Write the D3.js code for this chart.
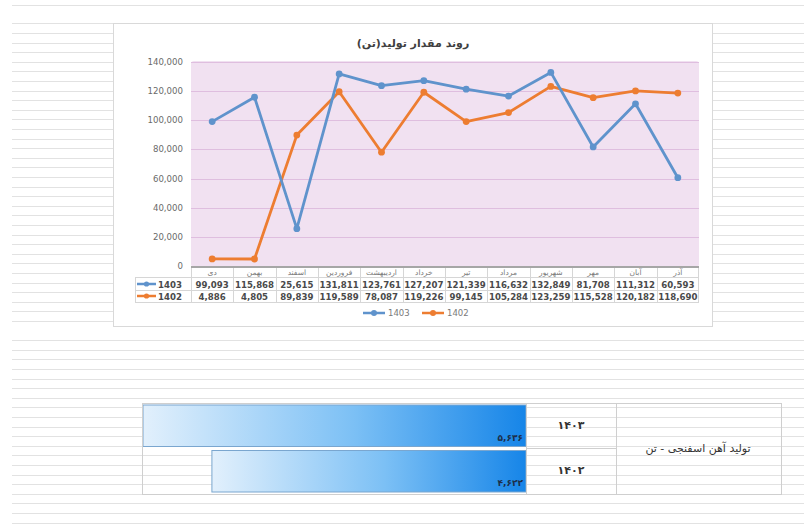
<!DOCTYPE html>
<html><head><meta charset="utf-8">
<script src="https://cdn.jsdelivr.net/npm/d3@7"></script>
<style>html,body{margin:0;padding:0;background:#fff;}svg{display:block;}</style>
</head><body>
<svg id="c" width="804" height="528"></svg>
<script>
const categories = ['دی','بهمن','اسفند','فروردین','اردیبهشت','خرداد','تیر','مرداد','شهریور','مهر','آبان','آذر'];
const series1403 = [99093,115868,25615,131811,123761,127207,121339,116632,132849,81708,111312,60593];
const series1402 = [4886,4805,89839,119589,78087,119226,99145,105284,123259,115528,120182,118690];
const seriesNames = ['1403','1402'];
const yTicks = [0,20000,40000,60000,80000,100000,120000,140000];
const chartTitle = 'روند مقدار تولید(تن)';
const totalYears = ['۱۴۰۳','۱۴۰۲'];
const totalValues = [5636, 4622];
const totalTitle = 'تولید آهن اسفنجی - تن';

const colors = ['#5f93cc','#ed7d31'];
const FONT = "'DejaVu Sans', sans-serif";
const svg = d3.select('#c');
const toFa = s => s.replace(/[0-9]/g, d => '۰۱۲۳۴۵۶۷۸۹'[+d]);

// spreadsheet gridlines
const grid = svg.append('g').attr('stroke','#e2e2e2').attr('stroke-width',1);
grid.append('line').attr('x1',12).attr('x2',804).attr('y1',5.5).attr('y2',5.5);
for (let k=-1; 33+9.6*k < 528; k++) {
  if (k===31) continue;
  const y = Math.round(33+9.6*k)+0.5;
  grid.append('line').attr('x1',12).attr('x2',804).attr('y1',y).attr('y2',y);
}

// chart frame
svg.append('rect').attr('x',113.5).attr('y',23.5).attr('width',599).attr('height',303)
  .attr('fill','#fff').attr('stroke','#d9d9d9');

svg.append('text').attr('x',413).attr('y',47).attr('text-anchor','middle')
  .attr('font-family',FONT).attr('font-weight','bold').attr('font-size',11).attr('fill','#404040')
  .text(chartTitle);

const x = d3.scaleBand().domain(categories).range([191,699]);
const y = d3.scaleLinear().domain([0,140000]).range([266,62]);

svg.append('rect').attr('x',191).attr('y',61).attr('width',508).attr('height',206)
  .attr('rx',3).attr('fill','#f1e1f1');

const gy = svg.append('g');
gy.selectAll('line').data(yTicks.slice(1)).join('line')
  .attr('x1',191).attr('x2',699).attr('y1',d=>Math.round(y(d))+0.5).attr('y2',d=>Math.round(y(d))+0.5)
  .attr('stroke','#dfbedf').attr('stroke-width',1);
gy.selectAll('text').data(yTicks).join('text')
  .attr('x',183).attr('y',d=>y(d)+3).attr('text-anchor','end')
  .attr('font-family',FONT).attr('font-size',8.6).attr('fill','#6a6a6a')
  .text(d=>d3.format(',')(d));

// axis line
svg.append('line').attr('x1',191).attr('x2',699).attr('y1',267).attr('y2',267)
  .attr('stroke','#a6a6a6').attr('stroke-width',2);

// data table
const tb = svg.append('g').attr('stroke','#d6d6d6').attr('stroke-width',1);
[277.5,290.5,302.5].forEach(yy=>tb.append('line').attr('x1',135).attr('x2',699).attr('y1',yy).attr('y2',yy));
tb.append('line').attr('x1',135.5).attr('x2',135.5).attr('y1',277.5).attr('y2',302.5);
categories.forEach((c,i)=>{
  const xx = Math.round(x(c))+0.5;
  tb.append('line').attr('x1',xx).attr('x2',xx).attr('y1',268).attr('y2',302.5);
});
tb.append('line').attr('x1',698.5).attr('x2',698.5).attr('y1',268).attr('y2',302.5);

svg.append('g').selectAll('text').data(categories).join('text')
  .attr('x',d=>x(d)+x.bandwidth()/2).attr('y',275).attr('text-anchor','middle')
  .attr('font-family',FONT).attr('font-size',7.5).attr('fill','#7a7a7a').text(d=>d);

[series1403, series1402].forEach((s,si)=>{
  const ry = si===0 ? 287.5 : 299.5;
  const g = svg.append('g');
  g.selectAll('text').data(s).join('text')
    .attr('x',(d,i)=>x(categories[i])+x.bandwidth()/2).attr('y',ry).attr('text-anchor','middle')
    .attr('font-family',FONT).attr('font-weight','bold').attr('font-size',8.6).attr('fill','#4a4a4a')
    .text(d=>d3.format(',')(d));
  const ly = ry-3.5;
  g.append('line').attr('x1',137).attr('x2',156).attr('y1',ly).attr('y2',ly).attr('stroke',colors[si]).attr('stroke-width',2.5);
  g.append('circle').attr('cx',146.5).attr('cy',ly).attr('r',2.6).attr('fill',colors[si]);
  g.append('text').attr('x',158).attr('y',ry).attr('font-family',FONT).attr('font-weight','bold')
    .attr('font-size',8.6).attr('fill','#4a4a4a').text(seriesNames[si]);
});

// lines
const line = d3.line().x((d,i)=>x(categories[i])+x.bandwidth()/2).y(d=>y(d));
[series1402, series1403].forEach((s,k)=>{
  const si = k===0 ? 1 : 0;
  const g = svg.append('g');
  g.append('path').attr('d',line(s)).attr('fill','none').attr('stroke',colors[si])
    .attr('stroke-width',2.8).attr('stroke-linejoin','round');
  g.selectAll('circle').data(s).join('circle')
    .attr('cx',(d,i)=>x(categories[i])+x.bandwidth()/2).attr('cy',d=>y(d)).attr('r',3.4).attr('fill',colors[si]);
});

// legend
const lg = svg.append('g');
[[363,'1403',0],[422,'1402',1]].forEach(([lx,t,si])=>{
  lg.append('line').attr('x1',lx).attr('x2',lx+22).attr('y1',313).attr('y2',313).attr('stroke',colors[si]).attr('stroke-width',2.5);
  lg.append('circle').attr('cx',lx+11).attr('cy',313).attr('r',3).attr('fill',colors[si]);
  lg.append('text').attr('x',lx+25).attr('y',316).attr('font-family',FONT).attr('font-size',8.5).attr('fill','#7a7a7a').text(t);
});

// bottom totals table
const defs = svg.append('defs');
const grad = defs.append('linearGradient').attr('id','bg').attr('x1','0%').attr('x2','100%');
grad.append('stop').attr('offset','0%').attr('stop-color','#e2f0fc');
grad.append('stop').attr('offset','55%').attr('stop-color','#7cc0f5');
grad.append('stop').attr('offset','100%').attr('stop-color','#1685e8');

const bx = d3.scaleLinear().domain([0, d3.max(totalValues)]).range([526,143]);
const by = d3.scaleBand().domain(totalYears).range([403,494]);
const tt = svg.append('g');
tt.selectAll('rect').data(totalValues).join('rect')
  .attr('x',d=>bx(d)).attr('y',(d,i)=>by(totalYears[i])+2).attr('width',d=>bx(0)-bx(d))
  .attr('height',by.bandwidth()-4).attr('fill','url(#bg)').attr('stroke','#7aa6cf').attr('stroke-width',1);
tt.selectAll('text.v').data(totalValues).join('text').attr('class','v')
  .attr('x',523).attr('y',(d,i)=>by(totalYears[i])+by.bandwidth()-8).attr('text-anchor','end')
  .attr('font-family',FONT).attr('font-weight','bold').attr('font-size',9).attr('fill','#1c2f4a')
  .text(d=>toFa(d3.format(',')(d)));

const tbl = svg.append('g').attr('stroke','#cfcfcf').attr('fill','none');
tbl.append('rect').attr('x',142.5).attr('y',403.5).attr('width',639).attr('height',91);
tbl.append('line').attr('x1',526.5).attr('x2',526.5).attr('y1',403.5).attr('y2',494.5);
tbl.append('line').attr('x1',616.5).attr('x2',616.5).attr('y1',403.5).attr('y2',494.5);
tbl.append('line').attr('x1',526.5).attr('x2',616.5).attr('y1',448.5).attr('y2',448.5);

tt.selectAll('text.yr').data(totalYears).join('text').attr('class','yr')
  .attr('x',571).attr('y',d=>by(d)+by.bandwidth()/2+3).attr('text-anchor','middle')
  .attr('font-family',FONT).attr('font-weight','bold').attr('font-size',11).attr('fill','#333')
  .text(d=>d);
svg.append('text').attr('x',698).attr('y',452).attr('text-anchor','middle')
  .attr('font-family',FONT).attr('font-size',11).attr('fill','#333').text(totalTitle);
</script>
</body></html>
